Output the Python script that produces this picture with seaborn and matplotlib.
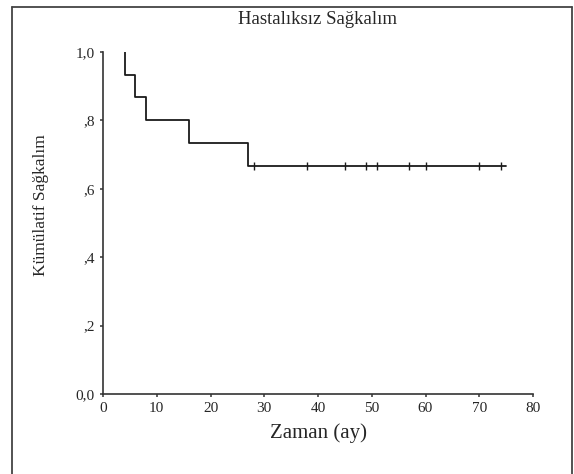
import matplotlib
matplotlib.use('Agg')
import matplotlib.pyplot as plt
from matplotlib.lines import Line2D
import seaborn as sns
import pandas as pd

# Kaplan-Meier step values
step_times = [4, 4, 6, 8, 16, 27, 75]
step_surv = [1.0, 0.933, 0.867, 0.8, 0.733, 0.667, 0.667]

# censored observations (tick marks on the last plateau)
censor_times = [28, 38, 45, 49, 51, 57, 60, 70, 74]
censor_surv = [0.667] * len(censor_times)

x_ticks = [0, 10, 20, 30, 40, 50, 60, 70, 80]
y_ticks = [0.0, 0.2, 0.4, 0.6, 0.8, 1.0]
y_tick_labels = ['0,0', ',2', ',4', ',6', ',8', '1,0']

sns.set_style('white')
plt.rcParams['font.family'] = ['Liberation Serif', 'DejaVu Serif']

fig = plt.figure(figsize=(5.74, 4.74), dpi=100)
ax = fig.add_axes([103 / 574, 80 / 474, 430 / 574, 342 / 474])

steps = pd.DataFrame({'t': step_times, 's': step_surv})
sns.lineplot(data=steps, x='t', y='s', drawstyle='steps-post', color='#1a1a1a',
             linewidth=1.3, ax=ax, estimator=None, sort=False)

cens = pd.DataFrame({'t': censor_times, 's': censor_surv})
sns.scatterplot(data=cens, x='t', y='s', marker='|', s=36, color='#1a1a1a',
                linewidth=1.0, ax=ax)

ax.set_xlim(0, 80)
ax.set_ylim(0, 1.0)
ax.set_xticks(x_ticks)
ax.set_yticks(y_ticks)
ax.set_yticklabels(y_tick_labels)
ax.tick_params(axis='both', labelsize=11, length=2, width=1.2, color='#444444',
               direction='out', bottom=True, left=True, pad=4)
sns.despine(ax=ax)
for side in ['left', 'bottom']:
    ax.spines[side].set_color('#333333')
    ax.spines[side].set_linewidth(1.2)

ax.set_xlabel('Zaman (ay)', fontsize=15, labelpad=6)
ax.set_ylabel('Kümülatif Sağkalım', fontsize=12.5)
ax.yaxis.set_label_coords(-0.126, 0.553)
fig.text(318 / 574, 1 - 19 / 474, 'Hastalıksız Sağkalım', ha='center', va='center',
         fontsize=13.5)

# frame around the figure (no bottom edge in the scan)
lx, rx, ty = 12 / 574, 572 / 574, 1 - 7 / 474
for xs, ys in [([lx, lx], [0, ty]), ([lx, rx], [ty, ty]), ([rx, rx], [ty, 0])]:
    fig.add_artist(Line2D(xs, ys, color='#444444', linewidth=1.3,
                          transform=fig.transFigure))

fig.savefig('out.png', dpi=100)
